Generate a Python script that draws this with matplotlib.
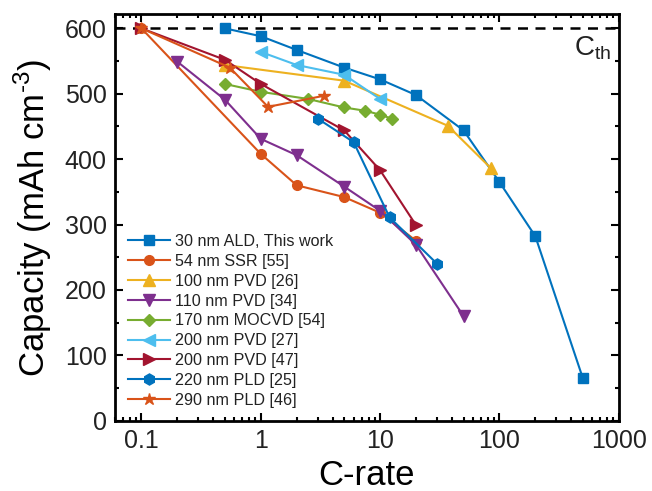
import numpy as np
import matplotlib
matplotlib.use("Agg")
import matplotlib.pyplot as plt
from matplotlib.ticker import LogLocator, MultipleLocator, NullFormatter

plt.rcParams['font.family'] = ['Liberation Sans', 'DejaVu Sans']
plt.rcParams['mathtext.fontset'] = 'custom'
plt.rcParams['mathtext.rm'] = 'Liberation Sans'
plt.rcParams['text.color'] = '#222222'

# rate capability data, C-rate vs volumetric capacity
ald_x = [0.5, 1, 2, 5, 10, 20, 50, 100, 200, 500]
ald_y = [600, 588, 567, 540, 522, 498, 444, 365, 282, 65]
ssr_x = [0.1, 1, 2, 5, 10, 20]
ssr_y = [600, 408, 360, 342, 318, 275]
pvd26_x = [0.5, 5, 37, 85]
pvd26_y = [544, 520, 451, 386]
pvd34_x = [0.2, 0.5, 1, 2, 5, 10, 20, 50]
pvd34_y = [549, 491, 431, 406, 358, 321, 269, 160]
mocvd_x = [0.5, 1, 2.5, 5, 7.5, 10, 12.5]
mocvd_y = [515, 503, 492, 479, 474, 468, 462]
pvd27_x = [1, 2, 5, 10]
pvd27_y = [564, 544, 529, 492]
pvd47_x = [0.1, 0.5, 1, 5, 10, 20]
pvd47_y = [600, 552, 515, 444, 383, 299]
pld25_x = [3, 6, 12, 30]
pld25_y = [462, 426, 311, 240]
pld46_x = [0.1, 0.55, 1.15, 3.4]
pld46_y = [600, 540, 480, 497]

c_th = 600

series = [
    (ald_x, ald_y, '#0072BD', 's', 6.5, '30 nm ALD, This work'),
    (ssr_x, ssr_y, '#D95319', 'o', 7, '54 nm SSR [55]'),
    (pvd26_x, pvd26_y, '#EDB120', '^', 8, '100 nm PVD [26]'),
    (pvd34_x, pvd34_y, '#7E2F8E', 'v', 8, '110 nm PVD [34]'),
    (mocvd_x, mocvd_y, '#77AC30', 'D', 6, '170 nm MOCVD [54]'),
    (pvd27_x, pvd27_y, '#4DBEEE', '<', 8, '200 nm PVD [27]'),
    (pvd47_x, pvd47_y, '#A2142F', '>', 8, '200 nm PVD [47]'),
    (pld25_x, pld25_y, '#0072BD', 'h', 8, '220 nm PLD [25]'),
    (pld46_x, pld46_y, '#D95319', '*', 9, '290 nm PLD [46]'),
]

fig = plt.figure(figsize=(6.52, 4.91), dpi=100)
ax = fig.add_axes([0.1764, 0.1432, 0.7726, 0.8283])

ax.axhline(c_th, color='k', lw=1.8, ls=(0, (4, 3)), zorder=1)
for x, y, c, m, ms, lab in series:
    ax.plot(x, y, color=c, marker=m, ms=ms, lw=1.5, label=lab, zorder=3)

ax.text(0.985, 0.915, r'C$_{\mathrm{th}}$', transform=ax.transAxes,
        ha='right', va='center', fontsize=20)

ax.set_xscale('log')
ax.set_xlim(0.06, 1000)
ax.set_ylim(0, 622)
ax.set_xticks([0.1, 1, 10, 100, 1000])
ax.set_xticklabels(['0.1', '1', '10', '100', '1000'])
ax.xaxis.set_minor_locator(LogLocator(base=10, subs=np.arange(2, 10) * 0.1, numticks=20))
ax.xaxis.set_minor_formatter(NullFormatter())
ax.yaxis.set_major_locator(MultipleLocator(100))
ax.yaxis.set_minor_locator(MultipleLocator(50))

ax.tick_params(which='both', direction='in', top=True, right=True, width=1.5)
ax.tick_params(which='major', length=6, labelsize=18, pad=6, labelcolor='#222222')
ax.tick_params(which='minor', length=3)
for s in ax.spines.values():
    s.set_linewidth(2)

ax.set_xlabel('C-rate', fontsize=25, labelpad=4)
ax.set_ylabel('Capacity (mAh cm$^{\u2010 3}$)', fontsize=25, labelpad=8)

ax.legend(loc='lower left', frameon=False, fontsize=11.6, handlelength=2.6,
          handletextpad=0.3, labelspacing=0.3, borderaxespad=0.4,
          bbox_to_anchor=(0.0, 0.0))

fig.savefig('out.png', dpi=100)
